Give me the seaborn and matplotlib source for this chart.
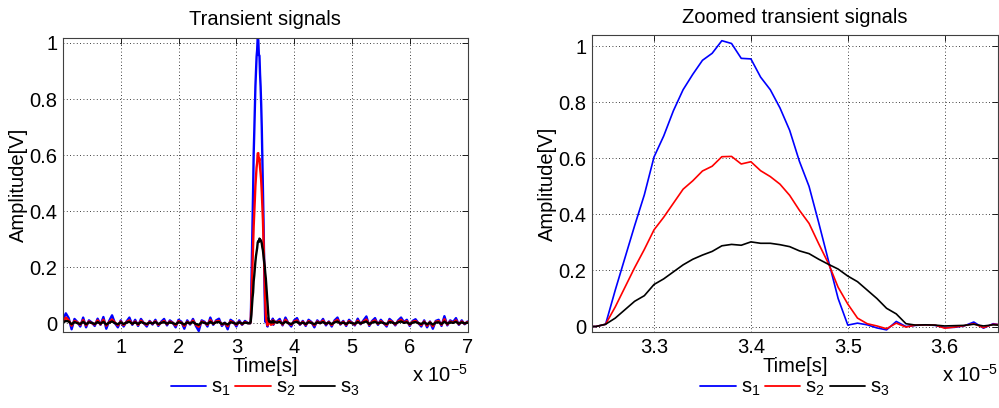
import numpy as np
import pandas as pd
import matplotlib
matplotlib.use("Agg")
import matplotlib.pyplot as plt
from matplotlib.lines import Line2D
import seaborn as sns

# time in units of 1e-5 s
T_PRE = np.round(np.arange(0.0, 3.201, 0.05), 2)      # baseline before pulse
T_PULSE = np.round(np.arange(3.24, 3.661, 0.01), 2)   # pulse region
T_POST = np.round(np.arange(3.70, 7.001, 0.05), 2)    # baseline after pulse

s1_pre = [0.010, 0.035, 0.018, -0.022, 0.015, 0.004, -0.012, 0.020, -0.015, 0.010,
          0.002, -0.010, 0.016, -0.006, 0.022, -0.020, 0.008, 0.028, 0.000, -0.015,
          0.010, -0.012, 0.006, 0.020, -0.006, 0.012, -0.010, 0.015, 0.000, -0.012,
          0.008, -0.005, 0.012, -0.010, 0.005, 0.015, -0.008, 0.010, 0.002, -0.015,
          0.012, 0.005, -0.020, 0.010, -0.005, 0.015, -0.010, -0.028, 0.010, 0.005,
          -0.012, 0.020, -0.006, 0.010, 0.016, -0.010, 0.002, -0.022, 0.012, 0.005,
          -0.012, 0.010, -0.006, 0.008, 0.000]
s2_pre = [0.005, 0.020, 0.010, -0.009, 0.008, 0.003, -0.006, 0.011, -0.008, 0.006,
          0.000, -0.005, 0.010, -0.004, 0.012, -0.009, 0.004, 0.013, 0.002, -0.008,
          0.006, -0.007, 0.004, 0.010, -0.003, 0.006, -0.006, 0.009, 0.000, -0.006,
          0.005, -0.002, 0.007, -0.006, 0.002, 0.008, -0.004, 0.006, 0.001, -0.008,
          0.007, 0.002, -0.010, 0.005, -0.002, 0.009, -0.006, -0.013, 0.006, 0.002,
          -0.006, 0.011, -0.003, 0.006, 0.008, -0.005, 0.000, -0.011, 0.007, 0.002,
          -0.006, 0.005, -0.004, 0.004, 0.000]
s3_pre = [0.002, 0.008, 0.006, -0.004, 0.004, 0.000, -0.003, 0.005, -0.004, 0.003,
          0.001, -0.003, 0.004, -0.002, 0.005, -0.005, 0.002, 0.006, 0.000, -0.004,
          0.003, -0.003, 0.002, 0.005, -0.002, 0.003, -0.003, 0.004, 0.000, -0.003,
          0.002, -0.001, 0.004, -0.003, 0.001, 0.004, -0.002, 0.003, 0.000, -0.004,
          0.003, 0.001, -0.005, 0.003, -0.001, 0.004, -0.003, -0.006, 0.003, 0.001,
          -0.003, 0.005, -0.002, 0.003, 0.004, -0.003, 0.000, -0.005, 0.003, 0.001,
          -0.003, 0.003, -0.002, 0.002, 0.000]

s1_pulse = [0.000, 0.008, 0.130, 0.245, 0.360, 0.470, 0.605, 0.680, 0.770, 0.845,
            0.900, 0.950, 0.975, 1.020, 1.010, 0.957, 0.955, 0.890, 0.845, 0.780,
            0.700, 0.590, 0.500, 0.370, 0.235, 0.100, 0.005, 0.012, 0.006, -0.005,
            -0.012, 0.018, 0.000, 0.004, 0.006, 0.004, -0.004, -0.003, 0.002, 0.016,
            -0.006, 0.010, 0.004]
s2_pulse = [0.000, 0.008, 0.070, 0.140, 0.210, 0.275, 0.345, 0.390, 0.440, 0.490,
            0.520, 0.555, 0.572, 0.606, 0.607, 0.580, 0.588, 0.556, 0.535, 0.508,
            0.468, 0.415, 0.368, 0.295, 0.225, 0.140, 0.080, 0.030, 0.010, 0.002,
            -0.008, 0.012, -0.002, 0.005, 0.006, 0.005, -0.006, -0.002, 0.003, 0.010,
            -0.004, 0.008, 0.006]
s3_pulse = [0.000, 0.008, 0.030, 0.060, 0.090, 0.110, 0.150, 0.170, 0.195, 0.220,
            0.240, 0.255, 0.268, 0.288, 0.293, 0.290, 0.302, 0.297, 0.297, 0.292,
            0.285, 0.270, 0.260, 0.240, 0.222, 0.205, 0.180, 0.160, 0.130, 0.100,
            0.065, 0.045, 0.010, 0.005, 0.006, 0.005, 0.002, 0.003, 0.004, 0.008,
            0.002, 0.006, 0.004]

s1_post = [0.005, 0.015, -0.008, 0.020, 0.000, -0.012, 0.010, 0.018, -0.006, 0.008,
           -0.010, 0.012, 0.004, -0.015, 0.010, 0.000, 0.015, -0.008, 0.006, -0.012,
           0.010, 0.020, -0.005, 0.008, -0.010, 0.012, 0.002, -0.008, 0.016, -0.004,
           0.010, 0.024, -0.010, 0.008, 0.018, -0.006, 0.012, 0.000, -0.012, 0.015,
           0.006, -0.008, 0.010, 0.020, 0.004, 0.012, -0.010, 0.008, 0.014, 0.000,
           -0.012, 0.010, -0.015, 0.006, -0.020, 0.008, 0.012, -0.010, 0.025, -0.008,
           0.010, 0.004, 0.018, -0.006, 0.010, -0.004, 0.006]
s2_post = [0.003, 0.008, -0.005, 0.012, 0.000, -0.006, 0.006, 0.010, -0.004, 0.005,
           -0.006, 0.007, 0.002, -0.008, 0.006, 0.000, 0.009, -0.004, 0.004, -0.007,
           0.006, 0.012, -0.003, 0.005, -0.006, 0.007, 0.001, -0.005, 0.009, -0.002,
           0.006, 0.013, -0.006, 0.005, 0.010, -0.003, 0.007, 0.000, -0.007, 0.009,
           0.004, -0.005, 0.006, 0.012, 0.002, 0.007, -0.006, 0.005, 0.008, 0.000,
           -0.007, 0.006, -0.009, 0.004, -0.011, 0.005, 0.007, -0.006, 0.014, -0.005,
           0.006, 0.002, 0.010, -0.004, 0.006, -0.002, 0.004]
s3_post = [0.002, 0.004, -0.002, 0.005, 0.000, -0.003, 0.003, 0.005, -0.002, 0.002,
           -0.003, 0.003, 0.001, -0.004, 0.003, 0.000, 0.004, -0.002, 0.002, -0.003,
           0.003, 0.006, -0.001, 0.002, -0.003, 0.003, 0.000, -0.002, 0.004, -0.001,
           0.003, 0.006, -0.003, 0.002, 0.005, -0.001, 0.003, 0.000, -0.003, 0.004,
           0.002, -0.002, 0.003, 0.006, 0.001, 0.003, -0.003, 0.002, 0.004, 0.000,
           -0.003, 0.003, -0.004, 0.002, -0.005, 0.002, 0.003, -0.003, 0.006, -0.002,
           0.003, 0.001, 0.005, -0.002, 0.003, -0.001, 0.002]

SIGNALS = ["s1", "s2", "s3"]
LABELS = ["s$_1$", "s$_2$", "s$_3$"]
COLORS = {"s1": "#0000ff", "s2": "#ff0000", "s3": "#000000"}
Y_TICKS = [0, 0.2, 0.4, 0.6, 0.8, 1]
Y_TICKLABELS = ["0", "0.2", "0.4", "0.6", "0.8", "1"]
FS = 14.5

parts = {
    "s1": (s1_pre, s1_pulse, s1_post),
    "s2": (s2_pre, s2_pulse, s2_post),
    "s3": (s3_pre, s3_pulse, s3_post),
}
t_all = np.concatenate([T_PRE, T_PULSE, T_POST])
rows = []
for name in SIGNALS:
    vals = np.concatenate([np.asarray(p, float) for p in parts[name]])
    assert len(vals) == len(t_all), (name, len(vals), len(t_all))
    rows.append(pd.DataFrame({"t": t_all, "amp": vals, "signal": name}))
df = pd.concat(rows, ignore_index=True)

sns.set_theme(style="white")
plt.rcParams["font.family"] = ["Liberation Sans", "DejaVu Sans"]
plt.rcParams["mathtext.fontset"] = "custom"
plt.rcParams["mathtext.rm"] = "Liberation Sans"
plt.rcParams["mathtext.it"] = "Liberation Sans"
plt.rcParams["text.color"] = "black"
plt.rcParams["axes.labelcolor"] = "black"

fig = plt.figure(figsize=(9.99, 4.08), dpi=100)
ax1 = fig.add_axes([0.063, 0.186, 0.405, 0.721])
ax2 = fig.add_axes([0.5926, 0.186, 0.4064, 0.728])


def style_axes(ax, title, xlim, ylim, xticks, xticklabels):
    ax.set_xlim(*xlim)
    ax.set_ylim(*ylim)
    ax.set_xticks(xticks)
    ax.set_xticklabels(xticklabels)
    ax.set_yticks(Y_TICKS)
    ax.set_yticklabels(Y_TICKLABELS)
    ax.grid(True, color="black", linestyle=(0, (1, 3)), linewidth=0.6)
    ax.tick_params(direction="in", length=4, width=0.6, top=True, right=True,
                   labelsize=FS, colors="black", pad=4)
    for sp in ax.spines.values():
        sp.set_color("#404040")
        sp.set_linewidth(0.8)
    ax.set_title(title, fontsize=FS, pad=9, color="black")
    ax.set_xlabel("Time[s]", fontsize=FS, labelpad=0)
    ax.set_ylabel("Amplitude[V]", fontsize=FS, labelpad=1)
    h = ax.get_position().height * fig.get_figheight() * fig.dpi
    ax.text(1.0, -43.0 / h, "x 10$^{-5}$", transform=ax.transAxes, ha="right",
            va="center", fontsize=FS)
    handles = [Line2D([], [], color=COLORS[s], lw=1.3) for s in SIGNALS]
    ax.legend(handles, LABELS, loc="upper center", bbox_to_anchor=(0.5, -46.0 / h),
              ncol=3, frameon=False, fontsize=FS, handlelength=1.75,
              handletextpad=0.25, columnspacing=0.25, borderaxespad=0,
              borderpad=0)


sns.lineplot(data=df, x="t", y="amp", hue="signal", palette=COLORS, sort=False,
             estimator=None, linewidth=1.7, legend=False, ax=ax1)
style_axes(ax1, "Transient signals", (0, 7), (-0.032, 1.018),
           [1, 2, 3, 4, 5, 6, 7], ["1", "2", "3", "4", "5", "6", "7"])

sns.lineplot(data=df, x="t", y="amp", hue="signal", palette=COLORS, sort=False,
             estimator=None, linewidth=1.2, legend=False, ax=ax2)
style_axes(ax2, "Zoomed transient signals", (3.236, 3.655), (-0.02, 1.04),
           [3.3, 3.4, 3.5, 3.6], ["3.3", "3.4", "3.5", "3.6"])

fig.savefig("out.png", dpi=100)
